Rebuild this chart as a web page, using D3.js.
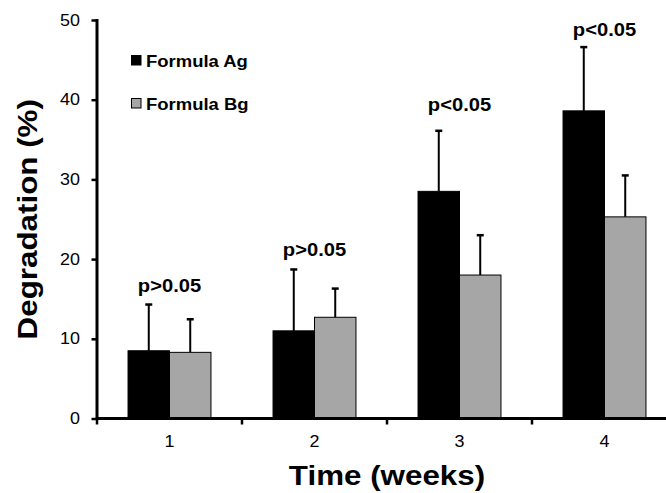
<!DOCTYPE html>
<html><head><meta charset="utf-8">
<script src="https://cdn.jsdelivr.net/npm/d3@7"></script>
<style>html,body{margin:0;padding:0;background:#fff;}svg{display:block;font-family:Arial,"Liberation Sans",sans-serif;}</style>
</head><body>
<svg id="chart" width="666" height="493"></svg>
<script>
const categories = ["1", "2", "3", "4"];
const seriesNames = ["Formula Ag", "Formula Bg"];
const formulaA = [8.5, 11.0, 28.5, 38.6];
const formulaAErr = [5.8, 7.7, 7.6, 8.0];
const formulaB = [8.3, 12.7, 18.0, 25.3];
const formulaBErr = [4.15, 3.6, 5.0, 5.2];
const pLabels = ["p>0.05", "p>0.05", "p<0.05", "p<0.05"];
const pLabelY = [15.9, 20.4, 38.6, 48.0];
const yTicks = [0, 10, 20, 30, 40, 50];

const colors = ["#000000", "#a6a6a6"];
const SX = 1.12; // horizontal text stretch seen in reference

const svg = d3.select("#chart");
const y = d3.scaleLinear().domain([0, 50]).range([418.5, 20]);
const x = d3.scaleBand().domain(categories).range([97, 677]).paddingInner(0.428).paddingOuter(0.214);
const xs = d3.scaleBand().domain(seriesNames).range([0, x.bandwidth()]);

function stext(g, tx, ty, str, size, weight, anchor, rot) {
  return g.append("text")
    .attr("transform", `translate(${tx},${ty})` + (rot ? ` rotate(${rot})` : "") + ` scale(${SX},1)`)
    .attr("text-anchor", anchor)
    .attr("font-size", size)
    .attr("font-weight", weight)
    .attr("fill", "#000")
    .text(str);
}

const rows = categories.map((c, i) => [
  {cat: c, s: seriesNames[0], v: formulaA[i], e: formulaAErr[i], col: colors[0]},
  {cat: c, s: seriesNames[1], v: formulaB[i], e: formulaBErr[i], col: colors[1]}
]).flat();

// error bars (behind bars)
const eg = svg.append("g").attr("stroke", "#000").attr("stroke-width", 2);
rows.forEach(d => {
  const cx = x(d.cat) + xs(d.s) + xs.bandwidth() / 2;
  eg.append("line").attr("x1", cx).attr("x2", cx).attr("y1", y(d.v)).attr("y2", y(d.v + d.e));
  eg.append("line").attr("x1", cx - 3.5).attr("x2", cx + 3.5).attr("y1", y(d.v + d.e)).attr("y2", y(d.v + d.e)).attr("stroke-width", 2.5);
});

// bars
svg.append("g").selectAll("rect").data(rows).join("rect")
  .attr("x", d => x(d.cat) + xs(d.s))
  .attr("y", d => y(d.v))
  .attr("width", xs.bandwidth())
  .attr("height", d => y(0) - y(d.v))
  .attr("fill", d => d.col)
  .attr("stroke", "#000")
  .attr("stroke-width", 1);

// p labels
categories.forEach((c, i) => {
  stext(svg, x(c) + x.bandwidth() / 2, y(pLabelY[i]), pLabels[i], 18, "bold", "middle");
});

// y axis
const ya = svg.append("g").attr("transform", "translate(97,0)")
  .call(d3.axisLeft(y).tickValues(yTicks).tickSize(5.5).tickSizeOuter(0).tickFormat(d3.format("d")));
ya.select(".domain").attr("stroke", "#000").attr("stroke-width", 3).attr("d", `M0,${y(50) - 1}V${y(0)}`);
ya.selectAll(".tick line").attr("stroke", "#000").attr("stroke-width", 2.5);
ya.selectAll(".tick text").remove();
yTicks.forEach(t => stext(svg, 80, y(t) + 5.5, String(t), 16, "normal", "end"));

// x axis
const xa = svg.append("g").attr("transform", `translate(0,${y(0)})`)
  .call(d3.axisBottom(x).tickSize(0).tickSizeOuter(0));
xa.select(".domain").attr("stroke", "#000").attr("stroke-width", 3).attr("d", `M97,0H677`);
xa.selectAll(".tick text").remove();
const gap = (x.step() - x.bandwidth()) / 2;
const bounds = categories.map(c => x(c) - gap);
bounds.forEach(b => xa.append("line").attr("x1", b).attr("x2", b).attr("y1", 0).attr("y2", 6).attr("stroke", "#000").attr("stroke-width", 2.5));
categories.forEach(c => stext(svg, x(c) + x.bandwidth() / 2, 447, c, 16, "normal", "middle"));

// axis titles
stext(svg, (97 + 677) / 2, 485, "Time (weeks)", 28, "bold", "middle");
stext(svg, 37, (y(0) + y(50)) / 2, "Degradation (%)", 28, "bold", "middle", -90);

// legend
const legY = [55, 98];
seriesNames.forEach((s, i) => {
  svg.append("rect").attr("x", 131.5).attr("y", legY[i] + 0.5).attr("width", 9.5).attr("height", 9.5)
    .attr("fill", colors[i]).attr("stroke", "#000").attr("stroke-width", 1);
  stext(svg, 146, legY[i] + 11.5, s, 16.5, "bold", "start");
});
</script>
</body></html>
